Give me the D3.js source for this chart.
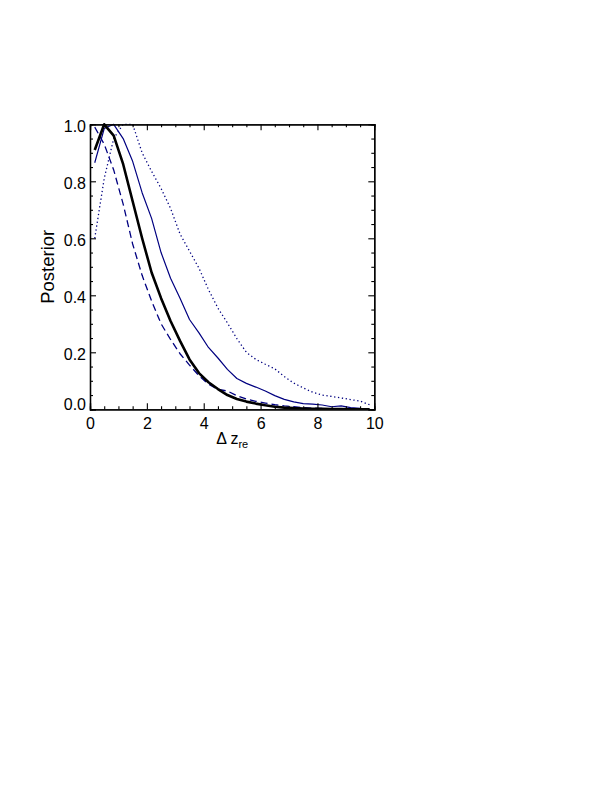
<!DOCTYPE html>
<html><head><meta charset="utf-8">
<script src="https://cdn.jsdelivr.net/npm/d3@7"></script>
<style>body{margin:0;background:#fff}svg{display:block}text{font-family:"Liberation Sans",Arial,sans-serif;fill:#000}</style>
</head><body>
<script>
// bin centres of Δz_re
const xBins = d3.range(30).map(k => 1/6 + k/3);
const blackThick = [0.91,1.0,0.96,0.86,0.73,0.60,0.48,0.39,0.31,0.24,0.175,0.127,0.095,0.071,0.05,0.036,0.027,0.02,0.014,0.009,0.006,0.004,0.003,0.002,0.002,0.001,0.001,0,0,0];
const navyDashed = [0.99,0.93,0.84,0.72,0.58,0.47,0.38,0.30,0.245,0.195,0.155,0.118,0.088,0.07,0.064,0.048,0.036,0.028,0.022,0.016,0.012,0.009,0.006,0.004,0.003,0.002,0.001,0.001,0,0];
const navySolid = [0.865,0.985,1.0,0.95,0.87,0.76,0.67,0.55,0.46,0.39,0.315,0.268,0.217,0.18,0.14,0.108,0.091,0.078,0.064,0.048,0.035,0.026,0.02,0.018,0.015,0.009,0.012,0.006,0.003,0.001];
const navyDotted = [0.60,0.81,0.95,1.0,1.0,0.90,0.835,0.775,0.705,0.615,0.555,0.495,0.42,0.355,0.303,0.248,0.2,0.175,0.158,0.142,0.115,0.092,0.075,0.06,0.05,0.045,0.04,0.034,0.029,0.016];
const xTicks = [0,2,4,6,8,10];
const yTicks = [0.0,0.2,0.4,0.6,0.8,1.0];

const W = 612, H = 792;
const L = 90, R = 374.3, T = 124.3, B = 409.3;
const svg = d3.select("body").append("svg").attr("width", W).attr("height", H);
const x = d3.scaleLinear().domain([0,10]).range([L,R]);
const y = d3.scaleLinear().domain([0,1]).range([B,T]);

const navy = "#000080";
const line = d3.line().x((d,i)=>x(xBins[i])).y(d=>y(d));
const series = [
  {v: navyDotted, c: navy, w: 1.3, dash: "1.3,2.6"},
  {v: navySolid, c: navy, w: 1.2, dash: null},
  {v: navyDashed, c: navy, w: 1.3, dash: "7,4"},
  {v: blackThick, c: "#000", w: 2.6, dash: null}
];
svg.append("clipPath").attr("id","c").append("rect").attr("x",L).attr("y",T-2).attr("width",R-L).attr("height",B-T+2);
series.forEach(s => {
  svg.append("path").attr("d", line(s.v)).attr("fill","none").attr("stroke",s.c)
    .attr("stroke-width",s.w).attr("stroke-dasharray",s.dash).attr("clip-path","url(#c)")
    .attr("stroke-linejoin","round");
});

// axes
const fs = 16;
svg.append("g").attr("transform",`translate(0,${B})`)
  .call(d3.axisBottom(x).tickValues(xTicks).tickSize(-6).tickPadding(8).tickFormat(d3.format("d")));
svg.append("g").attr("transform",`translate(0,${T})`)
  .call(d3.axisTop(x).tickValues(xTicks).tickSize(-6).tickFormat(""));
const axL = svg.append("g").attr("transform",`translate(${L},0)`)
  .call(d3.axisLeft(y).tickValues(yTicks).tickSize(-6).tickPadding(4).tickFormat(d3.format(".1f")));
svg.append("g").attr("transform",`translate(${R},0)`)
  .call(d3.axisRight(y).tickValues(yTicks).tickSize(-6).tickFormat(""));
const xMinor = d3.range(0,10.01,0.5).filter(v=>v%2!==0);
const yMinor = d3.range(0,1.001,0.05).filter(v=>Math.abs(v*5-Math.round(v*5))>1e-6);
svg.append("g").attr("transform",`translate(0,${B})`).call(d3.axisBottom(x).tickValues(xMinor).tickSize(-3).tickFormat(""));
svg.append("g").attr("transform",`translate(0,${T})`).call(d3.axisTop(x).tickValues(xMinor).tickSize(-3).tickFormat(""));
svg.append("g").attr("transform",`translate(${L},0)`).call(d3.axisLeft(y).tickValues(yMinor).tickSize(-3).tickFormat(""));
svg.append("g").attr("transform",`translate(${R},0)`).call(d3.axisRight(y).tickValues(yMinor).tickSize(-3).tickFormat(""));
svg.selectAll(".domain").attr("stroke","#000").attr("stroke-width",1.3);
svg.selectAll(".tick line").attr("stroke","#000").attr("stroke-width",1.1);
svg.selectAll(".tick text").attr("font-size",fs).attr("font-family","Liberation Sans, Arial, sans-serif");
axL.selectAll(".tick text").attr("dy", d => d === 0 ? "-0.0em" : "0.42em");
svg.selectAll(".domain").each(function(){ this.setAttribute("d", this.getAttribute("d").replace(/V-?6|H-?6/g, m=>m[0]+"0")); });

// labels
svg.append("text").attr("transform",`translate(54,${(T+B)/2}) rotate(-90)`)
  .attr("text-anchor","middle").attr("font-size",18.5).text("Posterior");
const xl = svg.append("text").attr("x",(L+R)/2).attr("y",444).attr("text-anchor","middle").attr("font-size",16);
xl.append("tspan").text("Δ z");
xl.append("tspan").attr("font-size",11).attr("dy",4).text("re");
</script>
</body></html>
